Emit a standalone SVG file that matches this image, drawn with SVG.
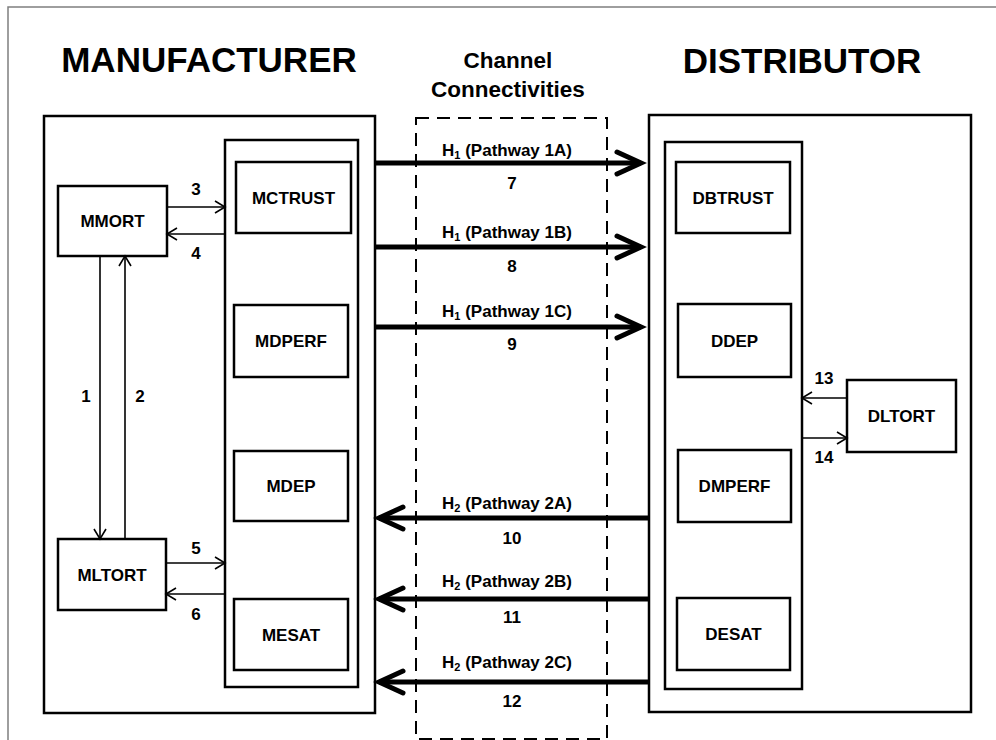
<svg xmlns="http://www.w3.org/2000/svg" width="996" height="740" viewBox="0 0 996 740">
  <defs>
    <style>
      text { font-family: "Liberation Sans", Arial, sans-serif; font-weight: bold; fill: #000; }
      .title { font-size: 35px; text-anchor: middle; }
      .chan { font-size: 22.5px; text-anchor: middle; }
      .lbl { font-size: 17px; text-anchor: middle; }
      .num { font-size: 17px; text-anchor: middle; }
      .path { font-size: 17px; text-anchor: middle; }
      .sub { font-size: 11px; }
      .box { fill: #fff; stroke: #000; stroke-width: 2.5; }
      .panel { fill: none; stroke: #000; stroke-width: 2.5; }
      .thin { fill: none; stroke: #000; stroke-width: 1.6; marker-end: url(#thinHead); }
      .thick { fill: none; stroke: #000; stroke-width: 5; marker-end: url(#thickHead); }
    </style>
    <marker id="thinHead" markerUnits="userSpaceOnUse" viewBox="0 0 14 16" refX="12" refY="8" markerWidth="14" markerHeight="16" orient="auto">
      <path d="M2,2 L12,8 L2,14" fill="none" stroke="#000" stroke-width="1.6"/>
    </marker>
    <marker id="thickHead" markerUnits="userSpaceOnUse" viewBox="0 0 42 30" refX="34" refY="15" markerWidth="42" markerHeight="30" orient="auto" overflow="visible">
      <path d="M10,4 L34,15 L10,26" fill="none" stroke="#000" stroke-width="5" stroke-linecap="round" stroke-linejoin="miter"/>
    </marker>
  </defs>

  <rect x="0" y="0" width="996" height="740" fill="#fff"/>
  <path d="M8,740 V7 H996" fill="none" stroke="#7f7f7f" stroke-width="1.5"/>

  <text class="title" x="209" y="72">MANUFACTURER</text>
  <text class="title" x="802" y="73">DISTRIBUTOR</text>

  <g id="channel">
    <text class="chan" x="508" y="68">Channel</text>
    <text class="chan" x="508" y="97">Connectivities</text>
    <rect x="416" y="118" width="191" height="621" fill="none" stroke="#000" stroke-width="2" stroke-dasharray="13,8"/>
  </g>

  <g id="manufacturer">
    <rect class="box" x="44" y="116" width="331" height="597"/>
    <rect class="panel" x="225" y="140" width="133" height="547"/>
  </g>

  <g id="distributor">
    <rect class="box" x="649" y="115" width="322" height="597"/>
    <rect class="panel" x="665" y="142" width="137" height="547"/>
  </g>

  <g id="MMORT">
    <rect class="box" x="58" y="186" width="109" height="70"/>
    <text class="lbl" x="112.5" y="227">MMORT</text>
  </g>
  <g id="MLTORT">
    <rect class="box" x="58" y="539" width="108" height="71"/>
    <text class="lbl" x="112" y="581">MLTORT</text>
  </g>
  <g id="MCTRUST">
    <rect class="box" x="236" y="162" width="115" height="71"/>
    <text class="lbl" x="293.5" y="204">MCTRUST</text>
  </g>
  <g id="MDPERF">
    <rect class="box" x="234" y="305" width="114" height="72"/>
    <text class="lbl" x="291" y="347">MDPERF</text>
  </g>
  <g id="MDEP">
    <rect class="box" x="234" y="451" width="114" height="70"/>
    <text class="lbl" x="291" y="492">MDEP</text>
  </g>
  <g id="MESAT">
    <rect class="box" x="234" y="599" width="114" height="71"/>
    <text class="lbl" x="291" y="641">MESAT</text>
  </g>

  <g id="DBTRUST">
    <rect class="box" x="676" y="162" width="114" height="71"/>
    <text class="lbl" x="733" y="204">DBTRUST</text>
  </g>
  <g id="DDEP">
    <rect class="box" x="678" y="304" width="113" height="73"/>
    <text class="lbl" x="734.5" y="347">DDEP</text>
  </g>
  <g id="DMPERF">
    <rect class="box" x="678" y="450" width="113" height="72"/>
    <text class="lbl" x="734.5" y="492">DMPERF</text>
  </g>
  <g id="DESAT">
    <rect class="box" x="677" y="598" width="113" height="72"/>
    <text class="lbl" x="733.5" y="640">DESAT</text>
  </g>
  <g id="DLTORT">
    <rect class="box" x="847" y="380" width="109" height="72"/>
    <text class="lbl" x="901.5" y="422">DLTORT</text>
  </g>

  <g id="connectors">
    <line class="thin" x1="167" y1="207" x2="225" y2="207"/>
    <line class="thin" x1="225" y1="234" x2="167" y2="234"/>
    <line class="thin" x1="100" y1="256" x2="100" y2="539"/>
    <line class="thin" x1="125" y1="539" x2="125" y2="256"/>
    <line class="thin" x1="166" y1="563" x2="225" y2="563"/>
    <line class="thin" x1="225" y1="594" x2="166" y2="594"/>
    <line class="thin" x1="847" y1="398" x2="802" y2="398"/>
    <line class="thin" x1="802" y1="438" x2="847" y2="438"/>
    <line class="thick" x1="375" y1="163" x2="641" y2="163"/>
    <line class="thick" x1="375" y1="247" x2="641" y2="247"/>
    <line class="thick" x1="375" y1="327" x2="641" y2="327"/>
    <line class="thick" x1="649" y1="518" x2="379" y2="518"/>
    <line class="thick" x1="649" y1="599" x2="379" y2="599"/>
    <line class="thick" x1="649" y1="682" x2="379" y2="682"/>
  </g>

  <g id="labels">
    <text class="num" x="196" y="195">3</text>
    <text class="num" x="196" y="259">4</text>
    <text class="num" x="86" y="402">1</text>
    <text class="num" x="140" y="402">2</text>
    <text class="num" x="196" y="554">5</text>
    <text class="num" x="196" y="620">6</text>
    <text class="num" x="824" y="384">13</text>
    <text class="num" x="824" y="463">14</text>

    <text class="path" x="507" y="156">H<tspan class="sub" dy="3">1</tspan><tspan dy="-3"> (Pathway 1A)</tspan></text>
    <text class="path" x="507" y="238">H<tspan class="sub" dy="3">1</tspan><tspan dy="-3"> (Pathway 1B)</tspan></text>
    <text class="path" x="507" y="317">H<tspan class="sub" dy="3">1</tspan><tspan dy="-3"> (Pathway 1C)</tspan></text>
    <text class="path" x="507" y="509">H<tspan class="sub" dy="3">2</tspan><tspan dy="-3"> (Pathway 2A)</tspan></text>
    <text class="path" x="507" y="587">H<tspan class="sub" dy="3">2</tspan><tspan dy="-3"> (Pathway 2B)</tspan></text>
    <text class="path" x="507" y="668">H<tspan class="sub" dy="3">2</tspan><tspan dy="-3"> (Pathway 2C)</tspan></text>

    <text class="num" x="512" y="189">7</text>
    <text class="num" x="512" y="272">8</text>
    <text class="num" x="512" y="350">9</text>
    <text class="num" x="512" y="544">10</text>
    <text class="num" x="512" y="623">11</text>
    <text class="num" x="512" y="707">12</text>
  </g>
</svg>
